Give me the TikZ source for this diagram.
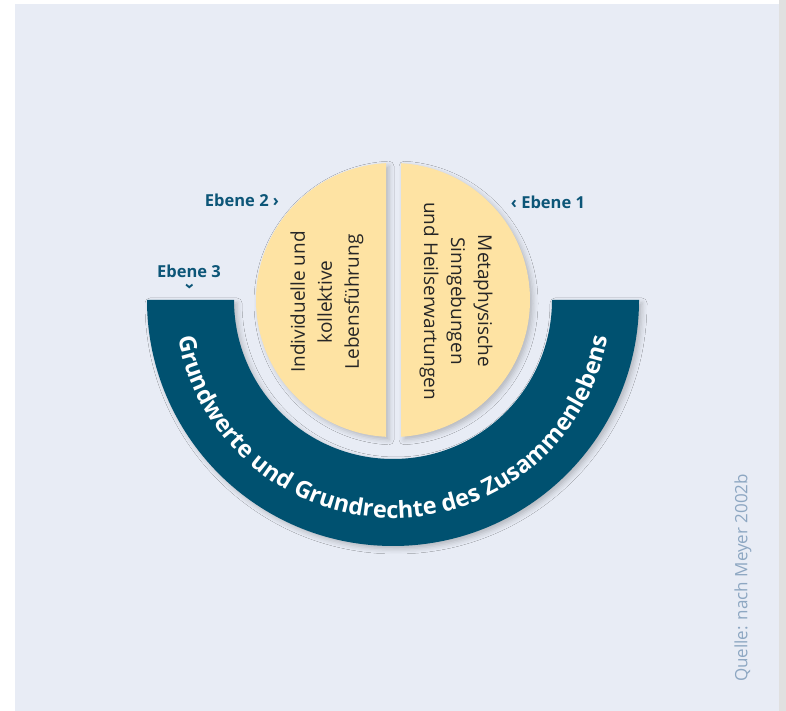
\documentclass[tikz,border=0pt]{standalone}
\usepackage{fontspec}
\setmainfont{Open Sans}
\usetikzlibrary{decorations.text}
\usetikzlibrary{shadows.blur}
\usetikzlibrary{positioning}
\definecolor{panel}{RGB}{232,236,245}
\definecolor{band}{RGB}{0,81,112}
\definecolor{half}{RGB}{254,227,163}
\definecolor{ebene}{RGB}{13,86,120}
\definecolor{quelle}{RGB}{141,167,194}

\begin{document}
\begin{tikzpicture}[
            x = 1pt, y = 1pt, % one unit per pixel
            inner sep = 0pt
        ]

        \tikzstyle{soft}=[
            blur shadow = {shadow xshift = 3pt, shadow yshift = -3pt,
                shadow blur radius = 5pt, shadow opacity = 22}
        ]
        \tikzstyle{level}=[
            text = ebene,
            font = \fontsize{16.5}{18}\selectfont\bfseries
        ]
        \tikzstyle{inside}=[
            text = black!85,
            align = center,
            font = \fontsize{19}{27}\selectfont
        ]

        \useasboundingbox (0,0) rectangle (786,711);

        % page and panel
        \fill[white] (0,0) rectangle (786,711);
        \fill[black!12] (779,0) rectangle (786,711);
        \fill[panel] (15,0) rectangle (779,707);

        \coordinate (C) at (393,411);

        % outer level: the half ring
        \fill[band, soft] (C) ++(180:246) arc[start angle=180, end angle=360, radius=246]
            -- ++(-87,0) arc[start angle=360, end angle=180, radius=159] -- cycle;
        \path[decorate, decoration={text along path, text align=center,
            text={|\fontsize{23.5}{24}\selectfont\bfseries\color{white}|Grundwerte und Grundrechte des Zusammenlebens}}]
            (C) ++(191:218) arc[start angle=191, end angle=349, radius=218];

        % inner levels: the two halves
        \fill[half, soft] (C) ++(92.93:137) arc[start angle=92.93, end angle=267.07, radius=137] -- cycle;
        \fill[half, soft] (C) ++(86.65:137) arc[start angle=86.65, end angle=-86.65, radius=137] -- cycle;

        \node[inside, rotate=90] (leben) at (327,409) {Individuelle und\\kollektive\\Lebensführung};
        \node[inside, rotate=-90] (sinn) at (456,410) {Metaphysische\\Sinngebungen\\und Heilserwartungen};

        % level labels
        \node[level] (E2) at (242,511) {Ebene 2 ›};
        \node[level] (E1) at (548,509) {‹ Ebene 1};
        \node[level] (E3) at (189,440) {Ebene 3};
        \node[level, rotate=-90] (E3tip) at (189,424) {›};

        % source
        \node[text=quelle, rotate=90, font=\fontsize{17}{17}\selectfont] (Q) at (743,133) {Quelle: nach Meyer 2002b};

\end{tikzpicture}
\end{document}
